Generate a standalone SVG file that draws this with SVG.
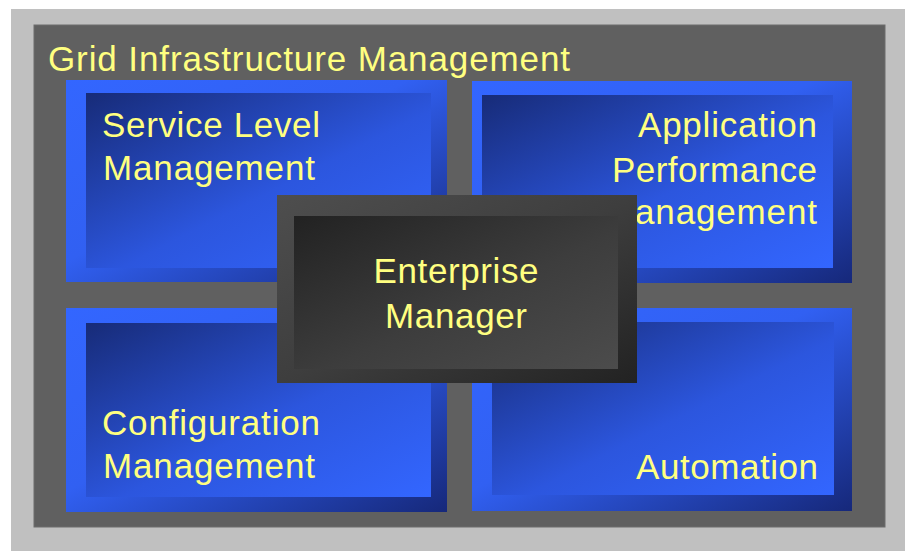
<svg xmlns="http://www.w3.org/2000/svg" width="905" height="551" viewBox="0 0 905 551">
<defs>
<linearGradient id="blueOuter" x1="0" y1="0" x2="1" y2="1">
<stop offset="0" stop-color="#3366ff"/>
<stop offset="0.45" stop-color="#3160f2"/>
<stop offset="1" stop-color="#16287a"/>
</linearGradient>
<linearGradient id="blueInner" x1="0" y1="0" x2="1" y2="1">
<stop offset="0" stop-color="#172b78"/>
<stop offset="0.55" stop-color="#2c56de"/>
<stop offset="1" stop-color="#3366ff"/>
</linearGradient>
<linearGradient id="greyOuter" x1="0" y1="0" x2="1" y2="1">
<stop offset="0" stop-color="#4e4e4e"/>
<stop offset="0.5" stop-color="#3e3e3e"/>
<stop offset="1" stop-color="#222222"/>
</linearGradient>
<linearGradient id="greyInner" x1="0" y1="0" x2="1" y2="1">
<stop offset="0" stop-color="#222222"/>
<stop offset="0.55" stop-color="#3d3d3d"/>
<stop offset="1" stop-color="#4c4c4c"/>
</linearGradient>
</defs>
<style>
text { font-family: "Liberation Sans", Arial, sans-serif; font-size: 35px; fill: #ffff80; }
.end { text-anchor: end; }
.mid { text-anchor: middle; }
.bo { fill: url(#blueOuter); }
.bi { fill: url(#blueInner); }
.go { fill: url(#greyOuter); }
.gi { fill: url(#greyInner); }
</style>
<rect x="0" y="0" width="905" height="551" fill="#ffffff"/>
<rect x="11" y="9" width="894" height="542" fill="#c0c0c0"/>
<g id="grid-infrastructure-management">
<rect x="34" y="25" width="851" height="502" fill="#606060" stroke="#6c6c6c" stroke-width="1"/>
<text x="48" y="71" textLength="522" lengthAdjust="spacing">Grid Infrastructure Management</text>
</g>
<g id="service-level-management">
<rect class="bo" x="66" y="80" width="381" height="202"/>
<rect class="bi" x="86" y="93" width="345" height="175"/>
<text x="102" y="137" textLength="218" lengthAdjust="spacing">Service Level</text>
<text x="103" y="180" textLength="212" lengthAdjust="spacing">Management</text>
</g>
<g id="application-performance-management">
<rect class="bo" x="472" y="81" width="380" height="202"/>
<rect class="bi" x="482" y="95" width="351" height="173"/>
<text class="end" x="817" y="137" textLength="179" lengthAdjust="spacing">Application</text>
<text class="end" x="817" y="182" textLength="205" lengthAdjust="spacing">Performance</text>
<text class="end" x="817" y="224" textLength="212" lengthAdjust="spacing">Management</text>
</g>
<g id="configuration-management">
<rect class="bo" x="66" y="308" width="381" height="204"/>
<rect class="bi" x="86" y="323" width="345" height="174"/>
<text x="102" y="435" textLength="218" lengthAdjust="spacing">Configuration</text>
<text x="103" y="478" textLength="212" lengthAdjust="spacing">Management</text>
</g>
<g id="automation">
<rect class="bo" x="472" y="308" width="380" height="203"/>
<rect class="bi" x="492" y="322" width="342" height="173"/>
<text class="end" x="818" y="479" textLength="182" lengthAdjust="spacing">Automation</text>
</g>
<g id="enterprise-manager">
<rect class="go" x="277" y="195" width="360" height="188"/>
<rect class="gi" x="294" y="216" width="324" height="153"/>
<text class="mid" x="456" y="283" textLength="165" lengthAdjust="spacing">Enterprise</text>
<text class="mid" x="456" y="328" textLength="142" lengthAdjust="spacing">Manager</text>
</g>
</svg>
